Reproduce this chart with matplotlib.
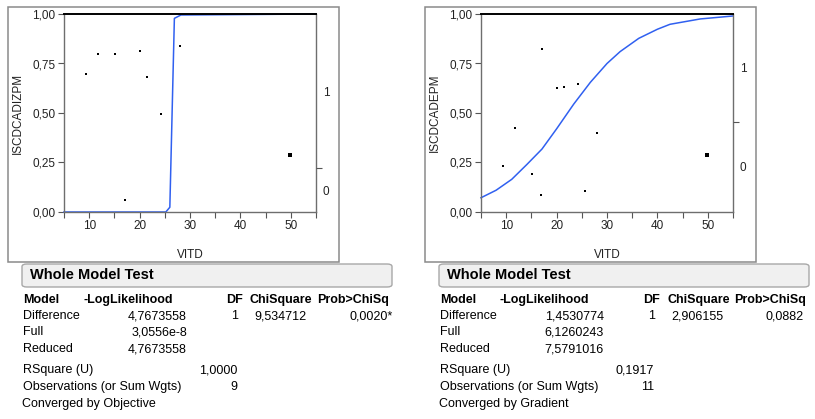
import matplotlib
matplotlib.use('Agg')
import matplotlib.pyplot as plt
from matplotlib.patches import Rectangle, FancyBboxPatch

plt.rcParams['font.family'] = ['Liberation Sans', 'DejaVu Sans']

W, H = 815, 419

# --- data ---
# left report: ISCDCADIZPM vs VITD
left_x = [9.37, 11.75, 15.12, 17.1, 20.08, 21.47, 24.25, 28.0]
left_y = [0.697, 0.798, 0.798, 0.061, 0.813, 0.682, 0.495, 0.838]
left_curve_x = [5, 25.2, 26.0, 26.9, 28.2, 55]
left_curve_y = [0.0, 0.0, 0.024, 0.978, 0.995, 1.0]
left_split = 0.222   # share of response 0 (right hand axis)

# right report: ISCDCADEPM vs VITD
right_x = [9.3, 11.75, 15.07, 16.9, 17.15, 20.06, 21.5, 24.3, 25.7, 28.1]
right_y = [0.234, 0.426, 0.194, 0.088, 0.823, 0.626, 0.631, 0.646, 0.108, 0.40]
right_curve_x = [5, 8, 11.1, 14.1, 17.1, 20.0, 23.4, 26.7, 30.0, 32.6, 36.3, 40.0, 42.5, 48.5, 55]
right_curve_y = [0.072, 0.11, 0.165, 0.24, 0.318, 0.42, 0.545, 0.655, 0.75, 0.81, 0.877, 0.923, 0.948, 0.975, 0.99]
right_split = 0.455

# the big marker in both plots
extra_x = [49.8]
extra_y = [0.288]

y_labels = ['ISCDCADIZPM', 'ISCDCADEPM']

# whole model test tables
left_table = {
    'diff': ['4,7673558', '1', '9,534712', '0,0020*'],
    'full': '3,0556e-8',
    'reduced': '4,7673558',
    'rsquare': '1,0000',
    'obs': '9',
    'converged': 'Converged by Objective',
}
right_table = {
    'diff': ['1,4530774', '1', '2,906155', '0,0882'],
    'full': '6,1260243',
    'reduced': '7,5791016',
    'rsquare': '0,1917',
    'obs': '11',
    'converged': 'Converged by Gradient',
}

fig = plt.figure(figsize=(W / 100, H / 100), dpi=100)


def ptext(x, y, s, **kw):
    fig.text(x / W, 1 - y / H, s, **kw)


def draw_panel(x0, ys_label, px, py, cx, cy, split, table):
    # outer frame of the report
    fig.patches.append(Rectangle(((x0 - 56) / W, 1 - 262 / H), 331 / W, 255 / H,
                                 transform=fig.transFigure, fill=False,
                                 edgecolor='#8a8a8a', linewidth=1.1))

    ax = fig.add_axes([x0 / W, 1 - 212 / H, 252 / W, 198 / H])
    ax.plot(cx, cy, color='#3060f0', linewidth=1.1, zorder=2, clip_on=False)
    ax.plot(px, py, 's', color='black', markersize=1.6, markeredgewidth=0)
    ax.plot(extra_x, extra_y, 's', color='black', markersize=3.2, markeredgewidth=0)
    ax.set_xlim(5, 55)
    ax.set_ylim(0, 1)
    ax.set_xticks([10, 20, 30, 40, 50])
    ax.set_xticks([5, 15, 25, 35, 45, 55], minor=True)
    ax.set_yticks([0, 0.25, 0.5, 0.75, 1.0])
    ax.set_yticklabels(['0,00', '0,25', '0,50', '0,75', '1,00'])
    ax.tick_params(which='both', direction='out', length=4, width=0.8, color='#555555',
                   labelsize=8.5, labelcolor='#222222', pad=2)
    for side in ['left', 'right', 'bottom']:
        ax.spines[side].set_color('#6e6e6e')
        ax.spines[side].set_linewidth(1.0)
    ax.spines['top'].set_color('black')
    ax.spines['top'].set_linewidth(1.4)
    ax.set_xlabel('VITD', fontsize=8.5, color='#222222', labelpad=12)
    ax.set_ylabel(ys_label, fontsize=8.5, color='#222222', labelpad=6)

    # right hand response axis
    ax2 = ax.twinx()
    ax2.set_ylim(0, 1)
    for side in ax2.spines:
        ax2.spines[side].set_visible(False)
    ax2.set_yticks([split])
    ax2.set_yticklabels([''])
    ax2.set_yticks([split / 2, (split + 1) / 2], minor=True)
    ax2.set_yticklabels(['0', '1'], minor=True)
    ax2.tick_params(which='major', direction='out', length=4, width=0.8, color='#555555')
    ax2.tick_params(which='minor', length=0, pad=5, labelsize=8.5, labelcolor='#222222')

    # whole model test
    off = x0 - 64
    fig.patches.append(FancyBboxPatch(((22 + off) / W, 1 - 287 / H), 370 / W, 23 / H,
                                      boxstyle='round,pad=0,rounding_size=0.006',
                                      transform=fig.transFigure, facecolor='#f0f0f0',
                                      edgecolor='#a8a8a8', linewidth=1.0))
    ptext(30 + off, 275, 'Whole Model Test', fontsize=10.5, fontweight='bold', va='center')

    hb = dict(fontsize=9, fontweight='bold', va='center')
    tx = dict(fontsize=9, va='center')
    ptext(23 + off, 300, 'Model', **hb)
    ptext(83 + off, 300, '-LogLikelihood', **hb)
    ptext(243 + off, 300, 'DF', ha='right', **hb)
    ptext(250 + off, 300, 'ChiSquare', **hb)
    ptext(317 + off, 300, 'Prob>ChiSq', **hb)

    ll, df, chi, p = table['diff']
    ptext(23 + off, 316, 'Difference', **tx)
    ptext(187 + off, 316, ll, ha='right', **tx)
    ptext(238 + off, 316, df, ha='right', **tx)
    ptext(254 + off, 316, chi, **tx)
    ptext(349 + off, 316, p, **tx)
    ptext(23 + off, 332, 'Full', **tx)
    ptext(187 + off, 332, table['full'], ha='right', **tx)
    ptext(23 + off, 349, 'Reduced', **tx)
    ptext(187 + off, 349, table['reduced'], ha='right', **tx)
    ptext(23 + off, 370, 'RSquare (U)', **tx)
    ptext(237 + off, 370, table['rsquare'], ha='right', **tx)
    ptext(23 + off, 387, 'Observations (or Sum Wgts)', **tx)
    ptext(237 + off, 387, table['obs'], ha='right', **tx)
    ptext(22 + off, 404, table['converged'], **tx)
    return ax


draw_panel(64, y_labels[0], left_x, left_y, left_curve_x, left_curve_y, left_split, left_table)
draw_panel(481, y_labels[1], right_x, right_y, right_curve_x, right_curve_y, right_split, right_table)

fig.savefig('out.png', dpi=100)
